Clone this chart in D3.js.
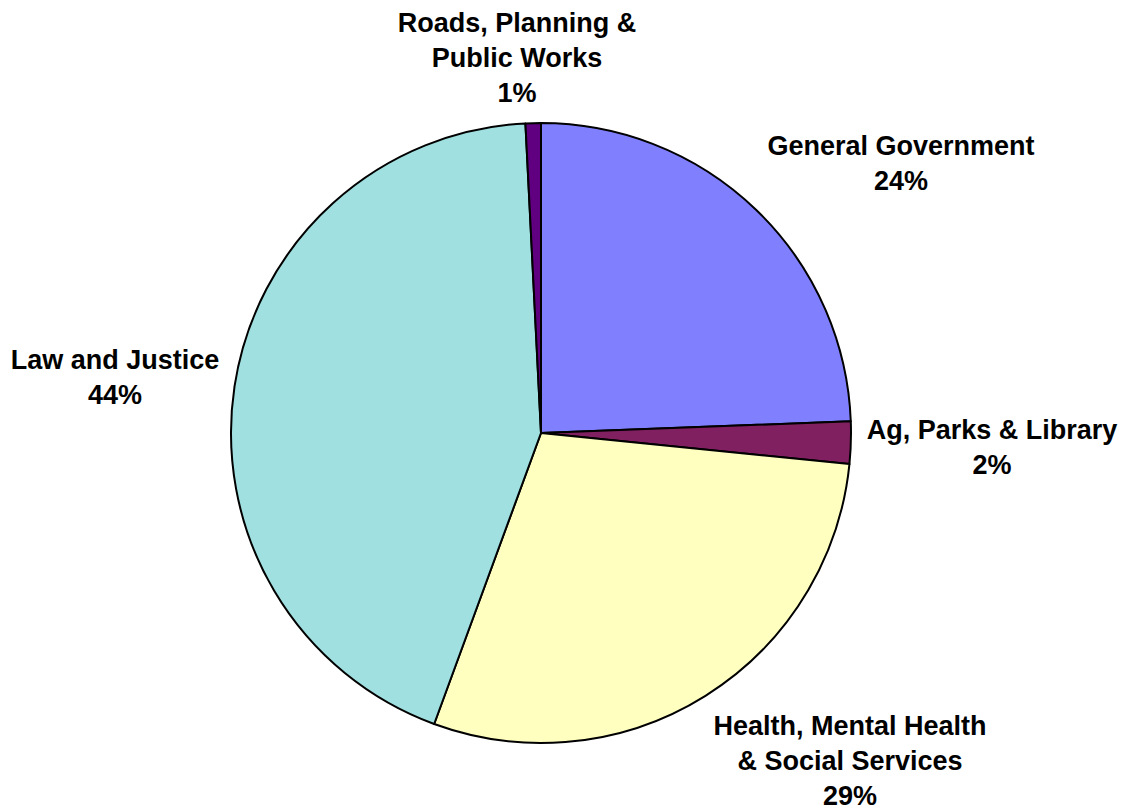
<!DOCTYPE html>
<html>
<head>
<meta charset="utf-8">
<script src="https://cdn.jsdelivr.net/npm/d3@7"></script>
<style>
  html, body { margin: 0; padding: 0; background: #fff; }
  svg { display: block; }
  .lbl { font-family: "Liberation Sans", Arial, sans-serif; font-weight: bold; font-size: 27px; fill: #000; }
</style>
</head>
<body>
<svg id="chart" width="1128" height="811"></svg>
<script>
// Budget share by functional area (percent of total)
const categories = [
  "General Government",
  "Ag, Parks & Library",
  "Health, Mental Health & Social Services",
  "Law and Justice",
  "Roads, Planning & Public Works"
];
const values = [24.4, 2.2, 29.0, 43.6, 0.8];
const colors = ["#8080FF", "#802060", "#FFFFC0", "#A0E0E0", "#600080"];

// Label text broken into lines, with anchor positions for each label block
const labelLines = [
  ["General Government"],
  ["Ag, Parks & Library"],
  ["Health, Mental Health", "& Social Services"],
  ["Law and Justice"],
  ["Roads, Planning &", "Public Works"]
];
const labelPos = [
  [901, 155], [992, 439], [850, 735], [115, 369], [517, 32]
];

const width = 1128, height = 811;
const cx = 541, cy = 433, radius = 310;
const lineH = 35;

const svg = d3.select("#chart");
const total = d3.sum(values);
const data = categories.map((c, i) => ({ name: c, value: values[i], color: colors[i], lines: labelLines[i], pos: labelPos[i] }));

const pie = d3.pie().value(d => d.value).sort(null);
const arc = d3.arc().innerRadius(0).outerRadius(radius);

const g = svg.append("g").attr("transform", `translate(${cx},${cy})`);
g.selectAll("path")
  .data(pie(data))
  .join("path")
  .attr("d", arc)
  .attr("fill", d => d.data.color)
  .attr("stroke", "#000")
  .attr("stroke-width", 2)
  .attr("stroke-linejoin", "round");

const fmt = v => Math.round(v / total * 100) + "%";

const labels = svg.append("g");
data.forEach(d => {
  const t = labels.append("text")
    .attr("class", "lbl")
    .attr("text-anchor", "middle")
    .attr("x", d.pos[0])
    .attr("y", d.pos[1]);
  const lines = d.lines.concat([fmt(d.value)]);
  lines.forEach((line, i) => {
    t.append("tspan")
      .attr("x", d.pos[0])
      .attr("dy", i === 0 ? 0 : lineH)
      .text(line);
  });
});
</script>
</body>
</html>
